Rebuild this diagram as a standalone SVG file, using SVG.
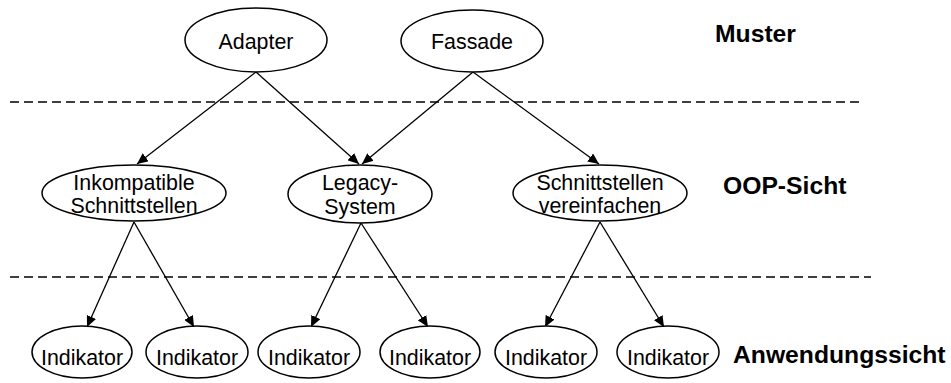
<svg xmlns="http://www.w3.org/2000/svg" width="951" height="383" viewBox="0 0 951 383">
  <defs>
    <marker id="arrow" markerWidth="12" markerHeight="10" refX="11" refY="5" orient="auto" markerUnits="userSpaceOnUse">
      <path d="M0,0 L11,5 L0,10 Z" fill="#000"/>
    </marker>
    <style>
      .node ellipse { fill: #fff; stroke: #000; stroke-width: 1.5; }
      .node text { font-family: "Liberation Sans", Arial, sans-serif; font-size: 21.4px; text-anchor: middle; fill: #000; }
      .edge { stroke: #000; stroke-width: 1.3; fill: none; marker-end: url(#arrow); }
      .sep { stroke: #000; stroke-width: 1.6; stroke-dasharray: 9 5; fill: none; }
      .layer { font-family: "Liberation Sans", Arial, sans-serif; font-size: 24.7px; font-weight: bold; fill: #000; }
    </style>
  </defs>
  <rect width="951" height="383" fill="#fff"/>

  <!-- layer separators -->
  <g id="separators">
    <line class="sep" x1="10" y1="102" x2="861" y2="102"/>
    <line class="sep" x1="10" y1="277" x2="871" y2="277"/>
  </g>

  <!-- layer labels -->
  <g id="labels">
    <text class="layer" x="715" y="42">Muster</text>
    <text class="layer" x="723" y="194">OOP-Sicht</text>
    <text class="layer" x="733" y="363">Anwendungssicht</text>
  </g>

  <!-- connectors -->
  <g id="connectors">
    <line class="edge" x1="256" y1="72" x2="137" y2="164"/>
    <line class="edge" x1="256" y1="72" x2="359" y2="164"/>
    <line class="edge" x1="473" y1="72" x2="362" y2="164"/>
    <line class="edge" x1="473" y1="72" x2="599" y2="164"/>
    <line class="edge" x1="134" y1="222" x2="87" y2="327"/>
    <line class="edge" x1="134" y1="222" x2="194" y2="327"/>
    <line class="edge" x1="361" y1="223" x2="311" y2="327"/>
    <line class="edge" x1="361" y1="223" x2="428" y2="327"/>
    <line class="edge" x1="600" y1="222" x2="545" y2="327"/>
    <line class="edge" x1="600" y1="222" x2="664" y2="327"/>
  </g>

  <!-- pattern level -->
  <g id="adapter" class="node">
    <ellipse cx="256" cy="40" rx="71" ry="32"/>
    <text x="256" y="49">Adapter</text>
  </g>
  <g id="fassade" class="node">
    <ellipse cx="472" cy="41" rx="71" ry="31"/>
    <text x="472" y="49">Fassade</text>
  </g>

  <!-- OOP level -->
  <g id="inkompatible" class="node">
    <ellipse cx="134" cy="193" rx="92" ry="28"/>
    <text x="134" y="190">Inkompatible</text>
    <text x="134" y="213">Schnittstellen</text>
  </g>
  <g id="legacy" class="node">
    <ellipse cx="360" cy="194" rx="72" ry="29"/>
    <text x="360" y="190">Legacy-</text>
    <text x="360" y="214">System</text>
  </g>
  <g id="vereinfachen" class="node">
    <ellipse cx="600" cy="193" rx="87" ry="28"/>
    <text x="600" y="190">Schnittstellen</text>
    <text x="600" y="213">vereinfachen</text>
  </g>

  <!-- application level -->
  <g id="indikator1" class="node">
    <ellipse cx="82" cy="352" rx="50" ry="26"/>
    <text x="82" y="365">Indikator</text>
  </g>
  <g id="indikator2" class="node">
    <ellipse cx="197" cy="352" rx="51" ry="26"/>
    <text x="197" y="365">Indikator</text>
  </g>
  <g id="indikator3" class="node">
    <ellipse cx="309" cy="352" rx="51" ry="26"/>
    <text x="309" y="365">Indikator</text>
  </g>
  <g id="indikator4" class="node">
    <ellipse cx="430" cy="352" rx="50" ry="26"/>
    <text x="430" y="365">Indikator</text>
  </g>
  <g id="indikator5" class="node">
    <ellipse cx="546" cy="352" rx="51" ry="26"/>
    <text x="546" y="365">Indikator</text>
  </g>
  <g id="indikator6" class="node">
    <ellipse cx="668" cy="352" rx="51" ry="26"/>
    <text x="668" y="365">Indikator</text>
  </g>
</svg>
